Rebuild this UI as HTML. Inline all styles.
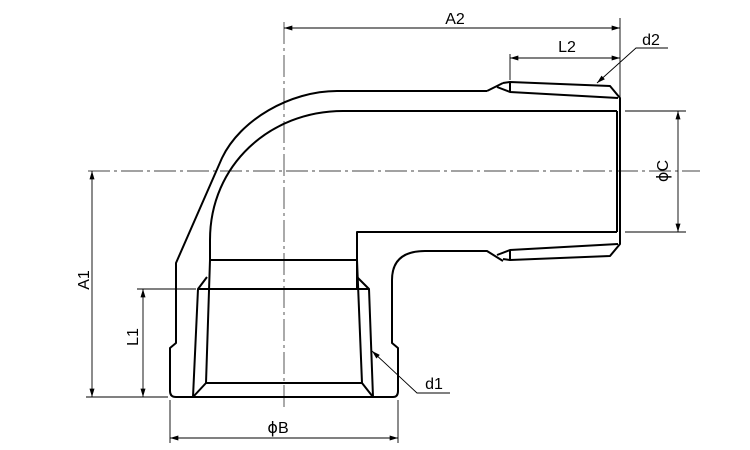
<!DOCTYPE html>
<html><head><style>html,body{margin:0;padding:0;background:#fff;}svg{display:block}</style></head>
<body>
<svg width="750" height="450" viewBox="0 0 750 450" xmlns="http://www.w3.org/2000/svg">
<defs>
<marker id="a" viewBox="0 0 10 6" refX="10" refY="3" markerWidth="9" markerHeight="5" orient="auto-start-reverse" markerUnits="userSpaceOnUse"><path d="M0,0 L10,3 L0,6 z" fill="#000"/></marker>
</defs>
<g stroke="#444" stroke-width="0.9" fill="none">
<line x1="88" y1="171" x2="700" y2="171" stroke-dasharray="22,4,3,4"/>
<line x1="284" y1="22" x2="284" y2="408" stroke-dasharray="22,4,3,4"/>
</g>
<g stroke="#000" stroke-width="2" fill="none" stroke-linejoin="round">
<path d="M487,91 L337,91 C290,91 240,120 222,158 L176,263 L176,343 L170,348 L170,391 Q170,397 176,397 L393,397 Q398,397 398,391 L398,348 L392,343 L392,280 Q392,251 425,251 L487,251 L503,261"/>
<path d="M487,91 L503,83"/>
<path d="M617,111 L343,111 C270,111 210,165 210,240 L210,260"/>
<path d="M357,290 L357,232 L617,232"/>
<line x1="210" y1="260" x2="357" y2="260"/>
<line x1="198" y1="289" x2="369" y2="289"/>
<path d="M207,277 L198,289 L193,397"/>
<path d="M357,277 L369,289 L373,397"/>
<path d="M210,260 L206,383 L362,383 L357,260"/>
<line x1="206" y1="383" x2="193" y2="397"/>
<line x1="362" y1="383" x2="373" y2="397"/>
<path d="M503,83 L510,82 L610,86 L620,98 L620,244 L610,256 L510,260 L503,259"/>
<path d="M497,87 L510,92 L618,98"/>
<path d="M497,255 L510,250 L618,244"/>
<line x1="510" y1="82" x2="510" y2="92"/>
<line x1="510" y1="250" x2="510" y2="260"/>
<line x1="617" y1="111" x2="617" y2="232"/>
</g>
<g stroke="#000" stroke-width="0.9" fill="none">
<line x1="620" y1="18" x2="620" y2="97"/>
<line x1="284" y1="28" x2="620" y2="28" marker-start="url(#a)" marker-end="url(#a)"/>
<line x1="510" y1="54" x2="510" y2="80"/>
<line x1="510" y1="58" x2="620" y2="58" marker-start="url(#a)" marker-end="url(#a)"/>
<path d="M597,83 L636,48 L668,48" marker-start="url(#a)"/>
<line x1="625" y1="111" x2="686" y2="111"/>
<line x1="625" y1="232" x2="686" y2="232"/>
<line x1="678" y1="111" x2="678" y2="232" marker-start="url(#a)" marker-end="url(#a)"/>
<line x1="86" y1="397" x2="168" y2="397"/>
<line x1="92" y1="171" x2="92" y2="397" marker-start="url(#a)" marker-end="url(#a)"/>
<line x1="137" y1="289" x2="196" y2="289"/>
<line x1="143" y1="289" x2="143" y2="397" marker-start="url(#a)" marker-end="url(#a)"/>
<line x1="170" y1="400" x2="170" y2="443"/>
<line x1="398" y1="400" x2="398" y2="443"/>
<line x1="170" y1="438" x2="398" y2="438" marker-start="url(#a)" marker-end="url(#a)"/>
<path d="M372,351 L417,393 L450,393" marker-start="url(#a)"/>
</g>
<g font-family="Liberation Sans, sans-serif" font-size="16" fill="#000">
<text x="455" y="24" text-anchor="middle">A2</text>
<text x="567" y="52" text-anchor="middle">L2</text>
<text x="651" y="45" text-anchor="middle">d2</text>
<text x="434" y="389" text-anchor="middle">d1</text>
<text x="278" y="433" text-anchor="middle"><tspan font-family="DejaVu Sans, sans-serif">ϕ</tspan>B</text>
<text transform="translate(89,280) rotate(-90)" text-anchor="middle">A1</text>
<text transform="translate(138,337) rotate(-90)" text-anchor="middle">L1</text>
<text transform="translate(668,171) rotate(-90)" text-anchor="middle"><tspan font-family="DejaVu Sans, sans-serif">ϕ</tspan>C</text>
</g>
</svg>
</body></html>
